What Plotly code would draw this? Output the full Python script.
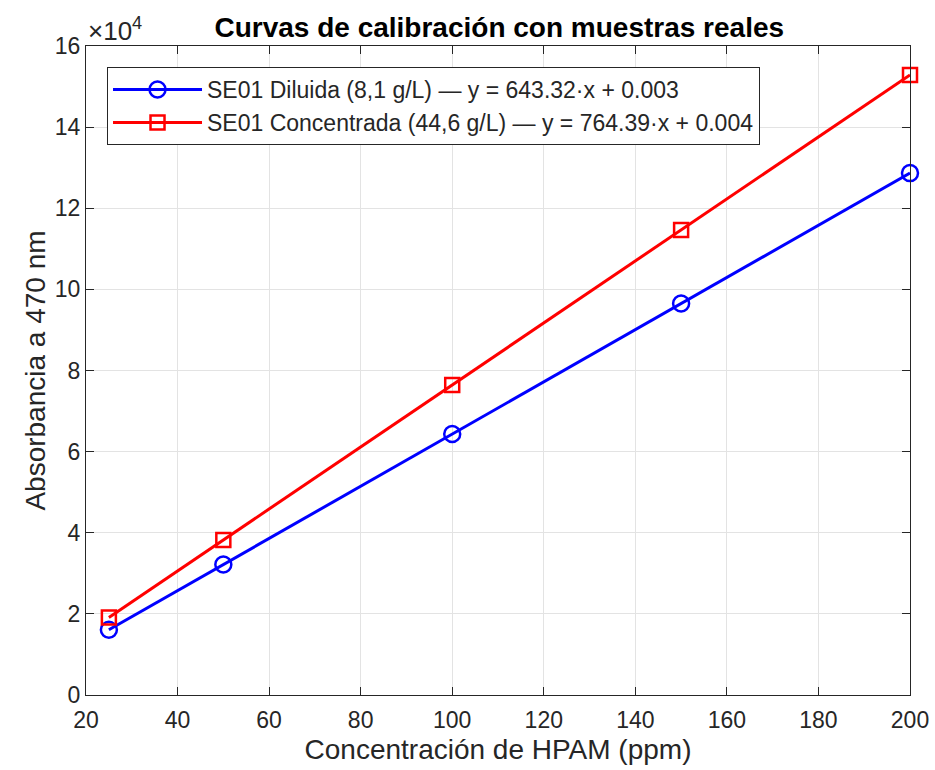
import plotly.graph_objects as go

conc = [25, 50, 100, 150, 200]
diluida = [16083, 32166, 64332, 96498, 128664]
concentrada = [19110, 38220, 76439, 114659, 152878]
name_dil = "SE01 Diluida (8,1 g/L) — y = 643.32·x + 0.003"
name_con = "SE01 Concentrada (44,6 g/L) — y = 764.39·x + 0.004"
xticks = [20, 40, 60, 80, 100, 120, 140, 160, 180, 200]
yticks = [0, 20000, 40000, 60000, 80000, 100000, 120000, 140000, 160000]
yticklabels = ["0", "2", "4", "6", "8", "10", "12", "14", "16"]

FONT = "Liberation Sans"
TXT = "#262626"
fig = go.Figure()
fig.add_trace(go.Scatter(x=conc, y=diluida, mode="lines+markers", name=name_dil,
                         cliponaxis=False,
                         line=dict(color="#0000ff", width=3),
                         marker=dict(symbol="circle-open", size=16, color="#0000ff",
                                     line=dict(width=2.5, color="#0000ff"))))
fig.add_trace(go.Scatter(x=conc, y=concentrada, mode="lines+markers", name=name_con,
                         cliponaxis=False,
                         line=dict(color="#ff0000", width=3),
                         marker=dict(symbol="square-open", size=14, color="#ff0000",
                                     line=dict(width=2.5, color="#ff0000"))))

axis_common = dict(showline=True, linecolor=TXT, linewidth=1.2, mirror="ticks",
                   ticks="inside", ticklen=8, tickcolor=TXT, showgrid=True,
                   gridcolor="#e3e3e3", gridwidth=1, zeroline=False, automargin=False,
                   tickfont=dict(family=FONT, size=23, color=TXT))
fig.update_xaxes(range=[20, 200], tickvals=xticks, ticklabelstandoff=4, **axis_common,
                 title=dict(text="Concentración de HPAM (ppm)",
                            font=dict(family=FONT, size=28, color=TXT), standoff=7))
fig.update_yaxes(range=[0, 160000], tickvals=yticks, ticktext=yticklabels, **axis_common,
                 title=dict(text="Absorbancia a 470 nm",
                            font=dict(family=FONT, size=28, color=TXT), standoff=0))

fig.update_layout(
    width=935, height=770,
    margin=dict(l=86, r=25, t=46, b=75),
    paper_bgcolor="white", plot_bgcolor="white",
    title=dict(text="<b>Curvas de calibración con muestras reales</b>",
               x=0.534, xanchor="center", y=0.965, yanchor="middle",
               font=dict(family=FONT, size=28, color="black")),
    legend=dict(x=0.0255, y=0.9676, xanchor="left", yanchor="top",
                bgcolor="white", bordercolor=TXT, borderwidth=1,
                font=dict(family=FONT, size=23, color=TXT),
                itemwidth=89, tracegroupgap=0),
    showlegend=True,
    annotations=[dict(text="×10<sup>4</sup>", xref="paper", yref="paper",
                      x=0.0, y=1.0, xanchor="left", yanchor="bottom", showarrow=False,
                      yshift=-2, font=dict(family=FONT, size=26, color=TXT))],
)
fig.write_html("out.html")
